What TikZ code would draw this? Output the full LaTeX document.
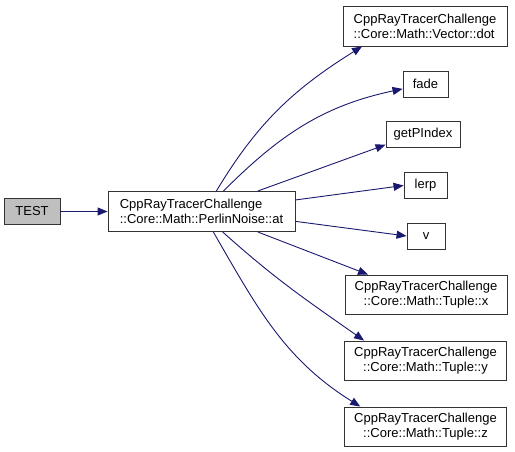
\documentclass[tikz,border=0pt]{standalone}
\usepackage{fontspec}
\setmainfont{Liberation Sans}
\usetikzlibrary{arrows.meta}
\definecolor{edgeblue}{RGB}{25,25,112}

\begin{document}
\begin{tikzpicture}[x=1pt,y=-1pt,
  fn/.style={rectangle,draw=black!80,line width=0.9pt,fill=white,
             font=\fontsize{13}{15}\selectfont,align=center,
             inner sep=0pt,minimum height=26pt},
  long/.style={fn,minimum width=162pt,minimum height=39pt},
  root/.style={fn,fill=black!25},
  call/.style={-{Triangle[length=10pt,width=8pt]},edgeblue,line width=0.9pt}
]
\useasboundingbox (0,0) rectangle (515,452);
\node[root,minimum width=56pt] (test) at (32,211.5) {TEST};
\node[fn,align=left,minimum width=187pt,minimum height=40pt] (at) at (201.5,211.5)
  {CppRayTracerChallenge\\::Core::Math::PerlinNoise::at};
\node[long,align=left,minimum width=164pt,minimum height=40pt] (dot) at (425,26)
  {CppRayTracerChallenge\\::Core::Math::Vector::dot};
\node[fn,minimum width=45pt] (fade) at (425.5,84) {fade};
\node[fn,minimum width=74pt] (getp) at (423,134) {getPIndex};
\node[fn,minimum width=43pt] (lerp) at (425.5,185.5) {lerp};
\node[fn,minimum width=38pt] (v) at (426,236) {v};
\node[long] (tx) at (426,294.5) {CppRayTracerChallenge\\::Core::Math::Tuple::x};
\node[long] (ty) at (425.5,360.5) {CppRayTracerChallenge\\::Core::Math::Tuple::y};
\node[long] (tz) at (425.5,426.5) {CppRayTracerChallenge\\::Core::Math::Tuple::z};

\draw[call] (test) -- (at);
\draw[call] (at.54) to[out=59,in=212] (dot.198);
\draw[call] (at.43) to[out=45,in=192] (fade.192);
\draw[call] (at.20) -- (getp.196);
\draw[call] (at.7) -- (lerp.west);
\draw[call] (at.-6) -- (v.west);
\draw[call] (at.-20) -- (tx.161);
\draw[call] (at.-44) to[out=-42,in=145] (ty.162);
\draw[call] (at.-60) to[out=-60,in=148] (tz.163);
\end{tikzpicture}
\end{document}
